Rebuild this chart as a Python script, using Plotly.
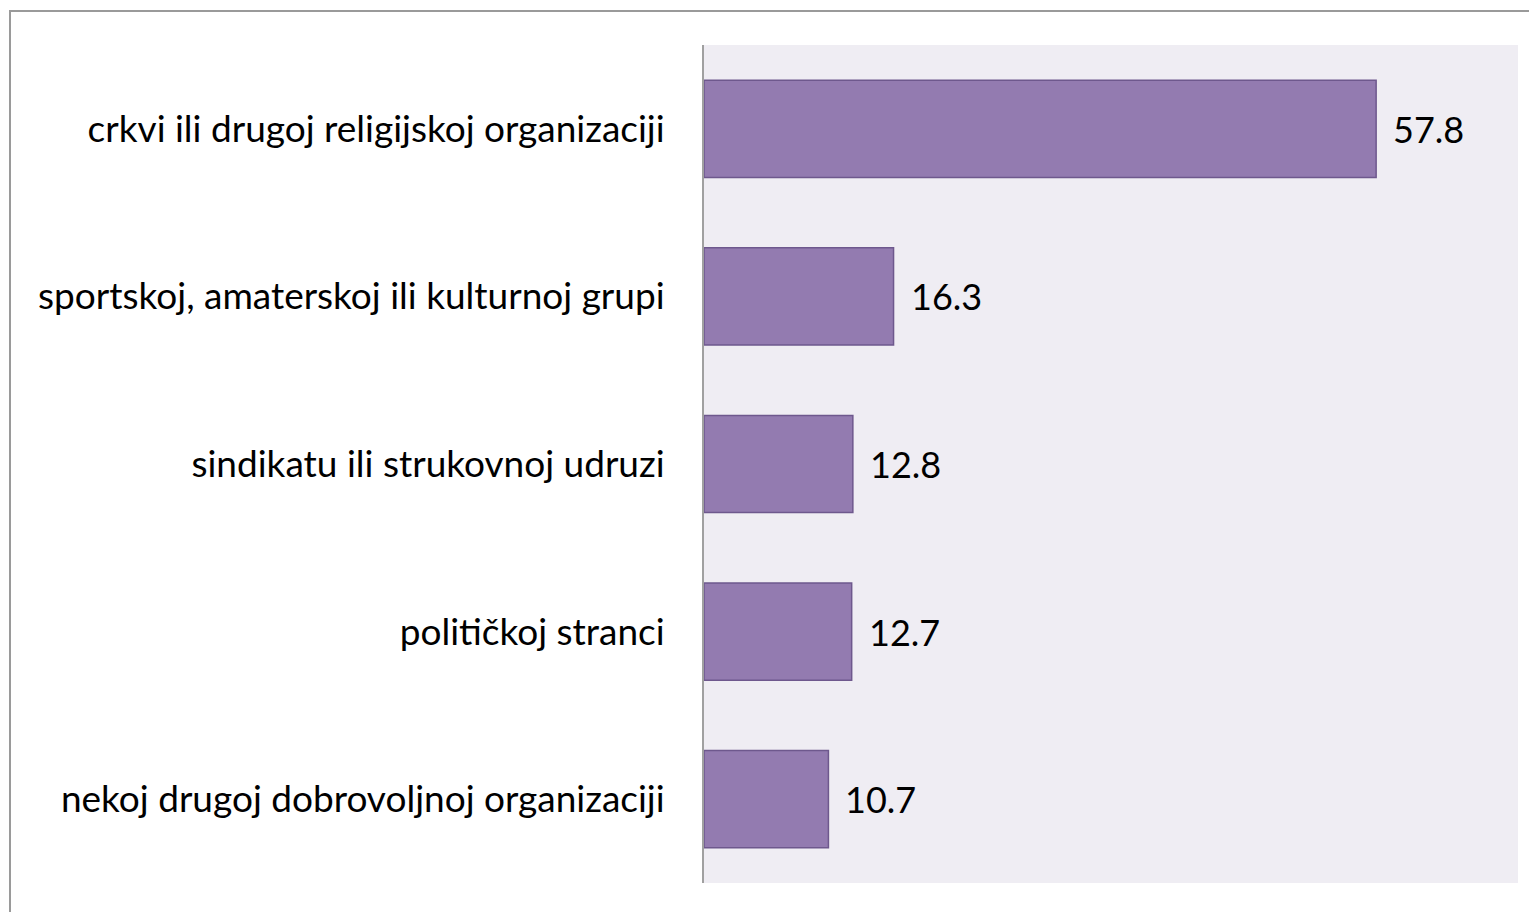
import plotly.graph_objects as go

categories = [
    "crkvi ili drugoj religijskoj organizaciji",
    "sportskoj, amaterskoj ili kulturnoj grupi",
    "sindikatu ili strukovnoj udruzi",
    "političkoj stranci",
    "nekoj drugoj dobrovoljnoj organizaciji",
]
values = [57.8, 16.3, 12.8, 12.7, 10.7]
value_labels = ["57.8", "16.3", "12.8", "12.7", "10.7"]

# page is rendered with an 8px body offset
OFF = 8
W, H = 1537, 912
ml, mt = 704 - OFF, 45 - OFF
pw, ph = 814, 838
mr = W - ml - pw
mb = H - mt - ph

font_family = "Lato, 'Open Sans', sans-serif"

fig = go.Figure()
fig.add_trace(go.Bar(
    x=values,
    y=categories,
    orientation="h",
    marker=dict(color="#937BB0", line=dict(color="#6E588D", width=1.5)),
    width=0.58,
    hoverinfo="x+y",
))

for v, lab, cat in zip(values, value_labels, categories):
    fig.add_annotation(
        x=v, y=cat, text=lab, showarrow=False,
        xanchor="left", yanchor="middle", xshift=15,
        font=dict(family=font_family, size=36, color="#000000"),
    )

# outer frame (left and top edges visible in the reference)
fx0 = (10 - OFF - ml) / pw
fx1 = (W + 20 - ml) / pw
fy1 = (mt + ph - (11 - OFF)) / ph
fy0 = (mt + ph - (H + 20)) / ph
fig.add_shape(type="rect", xref="paper", yref="paper",
              x0=fx0, x1=fx1, y0=fy0, y1=fy1,
              line=dict(color="#9A9A9A", width=2), fillcolor="rgba(0,0,0,0)",
              layer="below")

fig.update_layout(
    width=W, height=H,
    margin=dict(l=ml, r=mr, t=mt, b=mb),
    paper_bgcolor="#FFFFFF",
    plot_bgcolor="#EFEDF3",
    showlegend=False,
    font=dict(family=font_family, size=37, color="#000000"),
    xaxis=dict(range=[0, 70], showgrid=False, zeroline=False,
               showticklabels=False, ticks="", showline=False, fixedrange=True),
    yaxis=dict(autorange="reversed", showgrid=False, zeroline=False,
               showline=True, linecolor="#A0A0A0", linewidth=2,
               ticks="", ticklabelstandoff=30,
               tickfont=dict(family=font_family, size=37, color="#000000")),
)

fig.write_html("out.html")
